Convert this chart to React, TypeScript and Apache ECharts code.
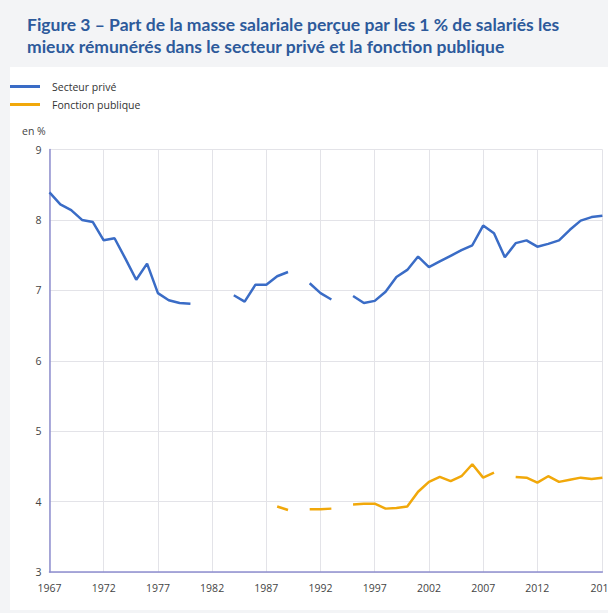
import React, { useEffect, useRef } from "react";
import * as echarts from "echarts";

const titleLines = [
  "Figure 3 – Part de la masse salariale perçue par les 1 % de salariés les",
  "mieux rémunérés dans le secteur privé et la fonction publique",
];
const seriesNames = ["Secteur privé", "Fonction publique"];
const unitLabel = "en %";

const years: number[] = [];
for (let y = 1967; y <= 2018; y++) years.push(y);

const secteurPrive: (number | null)[] = [
  8.39, 8.22, 8.14, 8.0, 7.97, 7.71, 7.74, 7.45, 7.15, 7.38,
  6.96, 6.86, 6.82, 6.81, null, null, null, 6.93, 6.84, 7.08,
  7.08, 7.2, 7.26, null, 7.1, 6.96, 6.87, null, 6.92, 6.82,
  6.85, 6.98, 7.19, 7.29, 7.48, 7.33, 7.41, 7.49, 7.57, 7.64,
  7.92, 7.81, 7.47, 7.67, 7.71, 7.62, 7.66, 7.71, 7.86, 7.99,
  8.04, 8.06,
];

const fonctionPublique: (number | null)[] = [
  null, null, null, null, null, null, null, null, null, null,
  null, null, null, null, null, null, null, null, null, null,
  null, 3.93, 3.88, null, 3.89, 3.89, 3.9, null, 3.96, 3.97,
  3.97, 3.9, 3.91, 3.93, 4.14, 4.28, 4.35, 4.29, 4.36, 4.53,
  4.34, 4.41, null, 4.35, 4.34, 4.27, 4.36, 4.28, 4.31, 4.34,
  4.32, 4.34,
];

const xTickValues = [1967, 1972, 1977, 1982, 1987, 1992, 1997, 2002, 2007, 2012, 2018];

const BLUE = "#3a6cc6";
const ORANGE = "#f1a80a";
const FONT = "'Open Sans', sans-serif";
const TITLE_FONT = "Lato, 'Open Sans', sans-serif";

export default function App() {
  const ref = useRef<HTMLDivElement>(null);

  useEffect(() => {
    if (!ref.current) return;
    const chart = echarts.init(ref.current, undefined, { renderer: "svg" });
    const pair = (arr: (number | null)[]) => years.map((y, i) => [y, arr[i]]);
    const titleStyle = {
      fontFamily: TITLE_FONT,
      fontSize: 17.5,
      fontWeight: "bold",
      color: "#2d5a9b",
      lineHeight: 19,
    };
    chart.setOption({
      animation: false,
      backgroundColor: "#f3f4f6",
      textStyle: { fontFamily: FONT },
      title: [
        { text: titleLines[0], left: 27, top: 15, padding: 0, textStyle: titleStyle },
        { text: titleLines[1], left: 27, top: 36.5, padding: 0, textStyle: titleStyle },
      ],
      graphic: [
        {
          type: "rect",
          z: -10,
          silent: true,
          shape: { x: 10, y: 67, width: 598, height: 543 },
          style: { fill: "#ffffff" },
        },
        {
          type: "text",
          left: 22,
          top: 125,
          style: { text: unitLabel, fontFamily: FONT, fontSize: 10.5, fill: "#444" },
        },
      ],
      legend: {
        orient: "vertical",
        left: 10,
        top: 81,
        padding: 0,
        itemWidth: 30,
        itemHeight: 3,
        itemGap: 7,
        icon: "rect",
        textStyle: { fontFamily: FONT, fontSize: 10.5, color: "#333", padding: [0, 0, 0, 7] },
        data: seriesNames,
      },
      grid: {
        left: 49.5,
        top: 149.5,
        right: 5.6,
        bottom: 41,
        containLabel: false,
        outerBoundsMode: "none",
      },
      xAxis: {
        type: "value",
        min: 1967,
        max: 2018,
        axisLine: { show: true, lineStyle: { color: "#8f8fcf", width: 1.5 } },
        axisTick: { show: false, customValues: xTickValues },
        axisLabel: {
          customValues: xTickValues,
          color: "#444",
          fontSize: 10.5,
          fontFamily: FONT,
          margin: 10,
          formatter: (v: number) => String(v),
        },
        splitLine: { show: true, lineStyle: { color: "#e3e3e8", width: 1 } },
      },
      yAxis: {
        type: "value",
        min: 3,
        max: 9,
        interval: 1,
        axisLine: { show: true, lineStyle: { color: "#8f8fcf", width: 1.5 } },
        axisTick: { show: false },
        axisLabel: { color: "#444", fontSize: 10.5, fontFamily: FONT, margin: 8 },
        splitLine: { show: true, lineStyle: { color: "#e3e3e8", width: 1 } },
      },
      series: [
        {
          name: seriesNames[0],
          type: "line",
          data: pair(secteurPrive),
          connectNulls: false,
          showSymbol: false,
          symbol: "none",
          lineStyle: { color: BLUE, width: 2.5 },
          itemStyle: { color: BLUE },
        },
        {
          name: seriesNames[1],
          type: "line",
          data: pair(fonctionPublique),
          connectNulls: false,
          showSymbol: false,
          symbol: "none",
          lineStyle: { color: ORANGE, width: 2.5 },
          itemStyle: { color: ORANGE },
        },
      ],
    });
    return () => chart.dispose();
  }, []);

  return (
    <div
      ref={ref}
      style={{ position: "absolute", left: 0, top: 0, width: 608, height: 613 }}
    />
  );
}
